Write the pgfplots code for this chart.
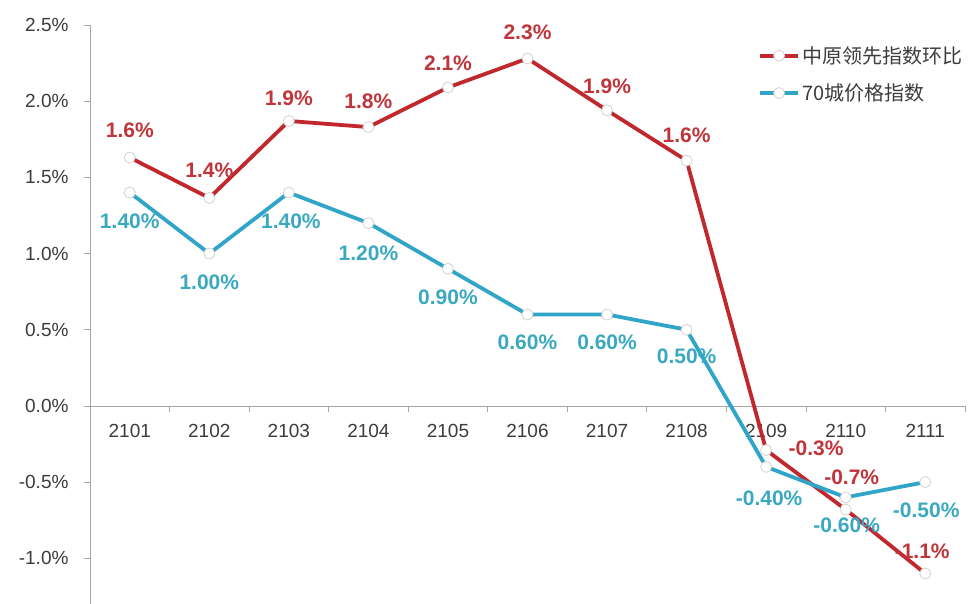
\documentclass[border=0pt]{standalone}
\usepackage{pgfplots}
\pgfplotsset{compat=1.18}
\usepackage{fontspec}
\setmainfont{Liberation Sans}
\newfontfamily\cjk{Noto Sans CJK SC}
\definecolor{cred}{HTML}{C0282E}
\definecolor{cblue}{HTML}{31A5C8}
\definecolor{lred}{HTML}{C0353C}
\definecolor{lblue}{HTML}{3AA9C0}
\definecolor{axgray}{HTML}{A6A6A6}
\definecolor{txt}{HTML}{3C3C3C}

\pgfplotstableread{
x y lab dx dy
0 1.63 1.6 0 27
1 1.365 1.4 0 28
2 1.87 1.9 0 23
3 1.83 1.8 0 26
4 2.09 2.1 0 24
5 2.28 2.3 0 26
6 1.94 1.9 0 24
7 1.61 1.6 0 25
8 -0.29 -0.3 50 2
9 -0.68 -0.7 6 32
10 -1.10 -1.1 -3 22
}\redtab

\pgfplotstableread{
x y lab dx dy
0 1.40 1.40 0 -29
1 1.00 1.00 0 -29
2 1.40 1.40 2 -29
3 1.20 1.20 0 -30
4 0.90 0.90 0 -28
5 0.60 0.60 0 -28
6 0.60 0.60 0 -28
7 0.50 0.50 0 -27
8 -0.40 -0.40 3 -31
9 -0.60 -0.60 1 -28
10 -0.50 -0.50 1 -28
}\bluetab

\begin{document}
\begin{tikzpicture}
\useasboundingbox (-90pt,0pt) rectangle (884pt,604pt);
\begin{axis}[
  scale only axis, width=875pt, height=579pt,
  at={(0pt,0pt)}, anchor=south west,
  xmin=-0.5, xmax=10.5, ymin=-1.3, ymax=2.5,
  axis x line*=middle, axis y line*=left,
  axis line style={axgray, line width=0.8pt},
  tick align=outside,
  xtick={0,1,2,3,4,5,6,7,8,9,10},
  xticklabels={2101,2102,2103,2104,2105,2106,2107,2108,2109,2110,2111},
  major x tick style={draw=none},
  minor xtick={0.5,1.5,2.5,3.5,4.5,5.5,6.5,7.5,8.5,9.5,10.5},
  minor tick length=6pt, major tick length=6pt,
  tick style={axgray, line width=0.8pt},
  ytick={-1,-0.5,0,0.5,1,1.5,2,2.5},
  yticklabel={\pgfmathprintnumber[fixed,fixed zerofill,precision=1,assume math mode=true]{\tick}\%},
  yticklabel style={font=\fontsize{19}{19}\selectfont, text=txt, xshift=-12pt},
  xticklabel style={font=\fontsize{19}{19}\selectfont, text=txt, yshift=-9pt},
  clip=false,
  legend style={at={(rel axis cs:0.76,0.97)}, anchor=north west, draw=none, fill=none,
    font=\cjk\fontsize{20}{20}\selectfont, text=txt, row sep=15pt, legend cell align=left},
  legend image code/.code={\draw[mark repeat=2,mark phase=2,#1] plot coordinates {(0pt,0pt) (19pt,0pt) (38pt,0pt)};},
]
\addplot[cred, line width=3.8pt, mark=*, mark size=5.5pt,
  mark options={fill=white, draw=gray!35, line width=0.8pt},
  point meta=explicit symbolic,
  nodes near coords={\pgfplotspointmeta\%},
  visualization depends on={\thisrow{dx} \as \dx},
  visualization depends on={\thisrow{dy} \as \dy},
  every node near coord/.append style={anchor=center, xshift=\dx, yshift=\dy,
    font=\bfseries\fontsize{21}{21}\selectfont, text=lred}]
  table[x=x, y=y, meta=lab] {\redtab};
\addlegendentry{中原领先指数环比}
\addplot[cblue, line width=3.8pt, mark=*, mark size=5.5pt,
  mark options={fill=white, draw=gray!35, line width=0.8pt},
  point meta=explicit symbolic,
  nodes near coords={\pgfplotspointmeta\%},
  visualization depends on={\thisrow{dx} \as \dx},
  visualization depends on={\thisrow{dy} \as \dy},
  every node near coord/.append style={anchor=center, xshift=\dx, yshift=\dy,
    font=\bfseries\fontsize{21}{21}\selectfont, text=lblue}]
  table[x=x, y=y, meta=lab] {\bluetab};
\addlegendentry{70城价格指数}
\end{axis}
\end{tikzpicture}
\end{document}
